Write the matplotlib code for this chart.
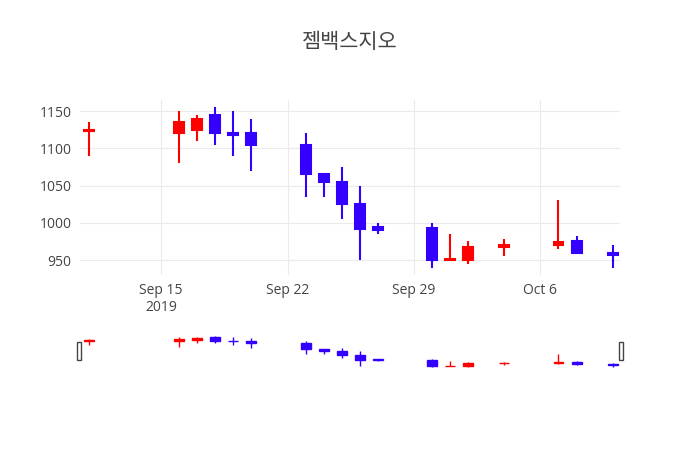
import matplotlib
matplotlib.use("Agg")
import matplotlib.pyplot as plt
import matplotlib.dates as mdates
import numpy as np
import pandas as pd

plt.rcParams['font.family'] = ['Open Sans', 'Noto Sans CJK KR', 'DejaVu Sans']

dates = ["2019-09-11", "2019-09-16", "2019-09-17", "2019-09-18", "2019-09-19",
         "2019-09-20", "2019-09-23", "2019-09-24", "2019-09-25", "2019-09-26",
         "2019-09-27", "2019-09-30", "2019-10-01", "2019-10-02", "2019-10-04",
         "2019-10-07", "2019-10-08", "2019-10-10"]
opens  = [1123, 1120, 1125, 1145, 1120, 1120, 1105, 1065, 1055, 1025,
          995, 993, 950, 950, 968, 970, 975, 960]
highs  = [1135, 1150, 1145, 1155, 1150, 1140, 1120, 1065, 1075, 1050,
          1000, 1000, 985, 975, 978, 1030, 982, 970]
lows   = [1090, 1080, 1110, 1105, 1090, 1070, 1035, 1035, 1005, 950,
          985, 940, 950, 945, 955, 965, 958, 940]
closes = [1125, 1135, 1140, 1120, 1118, 1105, 1065, 1055, 1025, 992,
          990, 950, 952, 968, 970, 974, 960, 957]

UP, DOWN = "#ff0000", "#3300ff"
x = mdates.date2num(pd.to_datetime(dates))
xmin = mdates.date2num(pd.Timestamp("2019-09-10 12:00"))
xmax = mdates.date2num(pd.Timestamp("2019-10-10 10:00"))


def candles(ax, w, lw):
    for xi, o, h, l, c in zip(x, opens, highs, lows, closes):
        col = UP if c >= o else DOWN
        ax.vlines(xi, l, h, color=col, linewidth=lw, zorder=3)
        lo, hi = min(o, c), max(o, c)
        ax.add_patch(plt.Rectangle((xi - w / 2, lo), w, max(hi - lo, 0.8),
                                   facecolor=col, edgecolor=col, linewidth=lw, zorder=4))


fig = plt.figure(figsize=(7, 4.5), dpi=100)
ax = fig.add_axes([0.114, 0.389, 0.772, 0.389])
candles(ax, 0.55, 1.5)
ax.set_xlim(xmin, xmax)
ax.set_ylim(930, 1165)
ax.set_yticks([950, 1000, 1050, 1100, 1150])
ticks = pd.to_datetime(["2019-09-15", "2019-09-22", "2019-09-29", "2019-10-06"])
ax.set_xticks(mdates.date2num(ticks))
ax.set_xticklabels(["Sep 15\n2019", "Sep 22", "Sep 29", "Oct 6"])
ax.grid(True, color="#ebebeb", linewidth=0.8)
ax.set_axisbelow(True)
for s in ax.spines.values():
    s.set_visible(False)
ax.tick_params(length=0, labelsize=10, colors="#444444", pad=6)
fig.text(0.5, 0.905, "젬백스지오", ha="center", va="center", fontsize=15, color="#444444")

sl = fig.add_axes([0.114, 0.182, 0.772, 0.073])
candles(sl, 0.55, 1.0)
sl.set_xlim(xmin, xmax)
sl.set_ylim(935, 1160)
sl.set_xticks([]); sl.set_yticks([])
for s in sl.spines.values():
    s.set_visible(False)
for gx in (0.114 - 0.004, 0.886 - 0.002):
    fig.add_artist(plt.Rectangle((gx, 0.2), 0.006, 0.04, transform=fig.transFigure,
                                 facecolor="white", edgecolor="#444444", linewidth=1))

fig.savefig("out.png", dpi=100)
